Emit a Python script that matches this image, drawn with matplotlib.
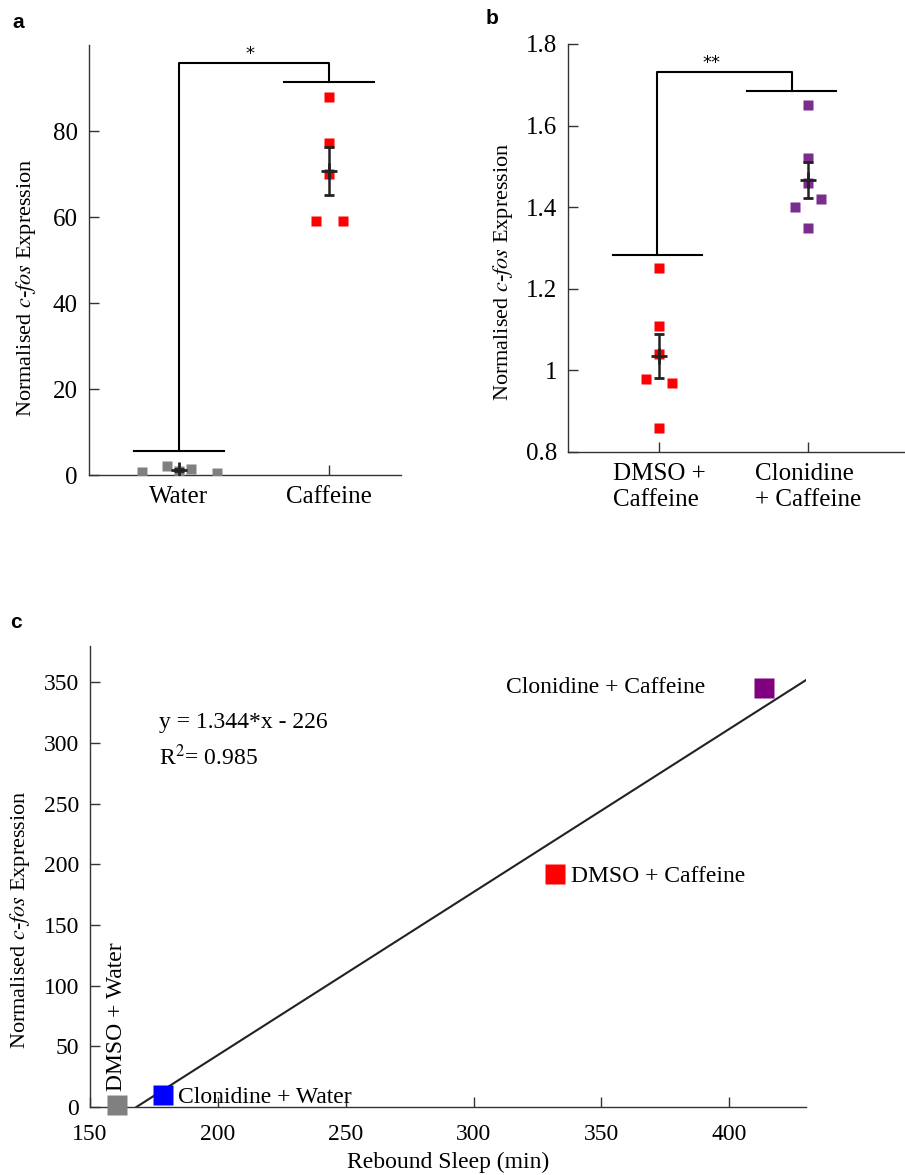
import numpy as np
import matplotlib
matplotlib.use("Agg")
import matplotlib.pyplot as plt

plt.rcParams['font.family'] = ['Liberation Serif', 'DejaVu Serif']
plt.rcParams['mathtext.fontset'] = 'stix'

# panel a
water_vals = [0.6, 2.1, 1.0, 1.4, 0.5]
water_offs = [-0.25, -0.08, 0.0, 0.08, 0.25]
caff_vals = [88.0, 77.3, 70.0, 59.1, 59.1]
caff_offs = [0.0, 0.0, 0.0, -0.09, 0.09]
a_labels = ['Water', 'Caffeine']

# panel b
dmso_vals = [1.25, 1.11, 1.04, 0.98, 0.97, 0.86]
dmso_offs = [0.0, 0.0, 0.0, -0.09, 0.09, 0.0]
clon_vals = [1.65, 1.52, 1.46, 1.42, 1.40, 1.35]
clon_offs = [0.0, 0.0, 0.0, 0.09, -0.09, 0.0]
b_labels = ['DMSO +\nCaffeine', 'Clonidine\n+ Caffeine']

# panel c
c_names = ['DMSO + Water', 'Clonidine + Water', 'DMSO + Caffeine', 'Clonidine + Caffeine']
c_sleep = [160.5, 178.5, 332.0, 413.5]
c_fos = [1.5, 10.0, 192.0, 345.5]
c_colors = ['#808080', '#0000ff', '#ff0000', '#800080']
slope, intercept = 1.344, -226.0

fig = plt.figure(figsize=(9.05, 11.75), dpi=100)


def style(ax, size=18):
    for s in ['top', 'right']:
        ax.spines[s].set_visible(False)
    for s in ['left', 'bottom']:
        ax.spines[s].set_color('#333333')
        ax.spines[s].set_linewidth(1.0)
    ax.tick_params(direction='in', length=7, width=1, color='#333333', labelsize=size, pad=8)


def group(ax, x, vals, offs, color):
    vals = np.array(vals)
    ax.plot(x + np.array(offs), vals, 's', ms=6.5, color=color, mec='none', zorder=3)
    m = vals.mean()
    sem = vals.std(ddof=1) / np.sqrt(len(vals))
    ax.errorbar(x, m, yerr=sem, fmt='+', ms=11, mew=2, color='#222222',
                ecolor='#222222', elinewidth=1.8, capsize=3.5, capthick=1.5, zorder=4)


def bracket(ax, x1, y1, x2, y2, top, star, w=0.3):
    kw = dict(color='black', lw=1.5, zorder=2)
    ax.plot([x1 - w, x1 + w], [y1, y1], **kw)
    ax.plot([x2 - w, x2 + w], [y2, y2], **kw)
    ax.plot([x1, x1, x2, x2], [y1, top, top, y2], **kw)
    ax.text((x1 + x2) / 2 - 0.03 - 0.06 * (len(star) - 1), top, star, ha='center', va='bottom',
            fontsize=13, family='DejaVu Sans')


ylab = 'Normalised $\\it{c}$-$\\it{fos}$ Expression'

# ---- a
ax = fig.add_axes([89 / 905, 1 - 475 / 1175, 312 / 905, 430 / 1175])
style(ax)
group(ax, 1, water_vals, water_offs, '#808080')
group(ax, 2, caff_vals, caff_offs, '#ff0000')
bracket(ax, 1, 5.6, 2, 91.5, 95.8, '*')
ax.set_xlim(0.4, 2.48)
ax.set_ylim(0, 100)
ax.set_yticks([0, 20, 40, 60, 80])
ax.set_xticks([1, 2])
ax.set_xticklabels(a_labels)
ax.set_ylabel(ylab, fontsize=16)
ax.yaxis.set_label_coords(-0.163, 0.435)
fig.text(12 / 905, 1 - 22 / 1175, 'a', fontsize=15, fontweight='bold',
         family='Liberation Sans', va='center')

# ---- b
ax = fig.add_axes([568 / 905, 1 - 452 / 1175, 337 / 905, 408 / 1175])
style(ax)
group(ax, 1, dmso_vals, dmso_offs, '#ff0000')
group(ax, 2, clon_vals, clon_offs, '#7b2d8e')
bracket(ax, 0.99, 1.283, 1.89, 1.685, 1.731, '**')
ax.set_xlim(0.39, 2.65)
ax.set_ylim(0.8, 1.8)
ax.set_yticks([0.8, 1.0, 1.2, 1.4, 1.6, 1.8])
ax.set_yticklabels(['0.8', '1', '1.2', '1.4', '1.6', '1.8'])
ax.set_xticks([1, 2])
ax.set_xticklabels(b_labels, multialignment='left', linespacing=1.2)
ax.set_ylabel(ylab, fontsize=16)
ax.yaxis.set_label_coords(-0.157, 0.441)
fig.text(486 / 905, 1 - 18 / 1175, 'b', fontsize=15, fontweight='bold',
         family='Liberation Sans', va='center')

# ---- c
ax = fig.add_axes([90 / 905, 1 - 1107 / 1175, 716 / 905, 461 / 1175])
style(ax, 17)
xl = np.array([-intercept / slope, 430])
ax.plot(xl, slope * xl + intercept, color='#222222', lw=1.5, zorder=2)
for xs, ys, col in zip(c_sleep, c_fos, c_colors):
    ax.plot(xs, ys, 's', ms=15, color=col, mec='none', clip_on=False, zorder=3)
ax.text(c_sleep[0], c_fos[0] + 12, c_names[0], rotation=90, ha='center', va='bottom', fontsize=17)
ax.text(c_sleep[1] + 5.8, c_fos[1] - 2, c_names[1], ha='left', va='center', fontsize=17)
ax.text(c_sleep[2] + 6, c_fos[2] - 2, c_names[2], ha='left', va='center', fontsize=17)
ax.text(c_sleep[3] - 23, c_fos[3] + 0.5, c_names[3], ha='right', va='center', fontsize=17)
ax.text(177, 317, 'y = 1.344*x - 226', ha='left', va='center', fontsize=17)
ax.text(177, 288, 'R$^2$= 0.985', ha='left', va='center', fontsize=17)
ax.set_xlim(150, 430)
ax.set_ylim(0, 380)
ax.set_xticks([150, 200, 250, 300, 350, 400])
ax.set_yticks([0, 50, 100, 150, 200, 250, 300, 350])
ax.tick_params(axis='x', pad=12)
ax.set_xlabel('Rebound Sleep (min)', fontsize=17, labelpad=5)
ax.set_ylabel(ylab, fontsize=16)
ax.yaxis.set_label_coords(-0.081, 0.406)
fig.text(10 / 905, 1 - 623 / 1175, 'c', fontsize=15, fontweight='bold',
         family='Liberation Sans', va='center')

fig.savefig('out.png', dpi=100)
